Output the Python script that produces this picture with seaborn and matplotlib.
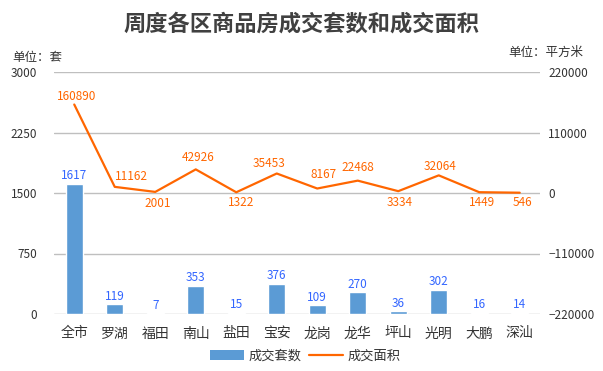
import numpy as np
import pandas as pd
import matplotlib
matplotlib.use("Agg")
import matplotlib.pyplot as plt
import seaborn as sns
from matplotlib.patches import Patch
from matplotlib.lines import Line2D

# data
districts = ["全市", "罗湖", "福田", "南山", "盐田", "宝安", "龙岗", "龙华", "坪山", "光明", "大鹏", "深汕"]
units_sold = [1617, 119, 7, 353, 15, 376, 109, 270, 36, 302, 16, 14]
area_sold = [160890, 11162, 2001, 42926, 1322, 35453, 8167, 22468, 3334, 32064, 1449, 546]
left_ticks = [0, 750, 1500, 2250, 3000]
right_ticks = [-220000, -110000, 0, 110000, 220000]

# label offsets for the area line (pixels, from each point)
area_label_dx = [2, 17, 2, 2, 5, -8, 6, 0, 1, 1, 3, 3]
area_label_dy = [8, 10, -12, 12, -10, 10, 14, 13, -11, 9, -10, -10]

BAR_COLOR = "#5B9BD5"
LINE_COLOR = "#FF6600"
BAR_TEXT = "#3366FF"
GRID = "#BFBFBF"
TEXT = "#333333"

sns.set_style("white")
plt.rcParams["font.family"] = ["Noto Sans CJK SC", "DejaVu Sans"]

df = pd.DataFrame({"district": districts, "units": units_sold, "area": area_sold,
                   "pos": np.arange(len(districts))})

fig = plt.figure(figsize=(6.03, 3.71), dpi=100)
ax = fig.add_axes([54 / 603, 1 - 314 / 371, (540 - 54) / 603, (314 - 72) / 371])

sns.barplot(data=df, x="district", y="units", color=BAR_COLOR, width=0.42,
            saturation=1, ax=ax, zorder=2)
ax.set_xlim(-0.5, len(districts) - 0.5)
ax.set_ylim(0, 3000)
ax.set_yticks(left_ticks)
ax.yaxis.grid(True, color=GRID, linewidth=1)
ax.set_axisbelow(True)
ax.set_xlabel("")
ax.set_ylabel("")
ax.tick_params(axis="y", length=0, labelsize=8.5, labelcolor=TEXT, pad=12)
ax.tick_params(axis="x", length=0, labelsize=10, labelcolor=TEXT, pad=9)
sns.despine(ax=ax, left=True, bottom=True)

for i, v in enumerate(units_sold):
    ax.annotate(str(v), (i, v), xytext=(0, 8), textcoords="offset pixels",
                ha="center", va="center", fontsize=8.5, color=BAR_TEXT)

ax2 = ax.twinx()
sns.lineplot(data=df, x="pos", y="area", color=LINE_COLOR, linewidth=1.6,
             ax=ax2, sort=False, zorder=3)
ax2.set_ylim(-220000, 220000)
ax2.set_yticks(right_ticks)
ax2.set_xlim(-0.5, len(districts) - 0.5)
ax2.set_xlabel("")
ax2.set_ylabel("")
ax2.tick_params(axis="y", length=0, labelsize=8.5, labelcolor=TEXT, pad=6)
sns.despine(ax=ax2, left=True, bottom=True, right=True)

for i, v in enumerate(area_sold):
    ax2.annotate(str(v), (i, v), xytext=(area_label_dx[i], area_label_dy[i]),
                 textcoords="offset pixels", ha="center", va="center",
                 fontsize=8.5, color=LINE_COLOR)

fig.text(0.5, 1 - 24 / 371, "周度各区商品房成交套数和成交面积", ha="center", va="center",
         fontsize=16, fontweight="bold", color="#404040")
fig.text(12 / 603, 1 - 57 / 371, "单位：套", ha="left", va="center",
         fontsize=9, color=TEXT)
fig.text(583 / 603, 1 - 52 / 371, "单位：平方米", ha="right", va="center",
         fontsize=9, color=TEXT)

handles = [Patch(facecolor=BAR_COLOR, edgecolor="none"),
           Line2D([0], [0], color=LINE_COLOR, linewidth=1.6)]
fig.legend(handles, ["成交套数", "成交面积"], loc="center",
           bbox_to_anchor=(305 / 603, 1 - 356 / 371), ncol=2, frameon=False,
           fontsize=9.5, handlelength=2.6, handletextpad=0.3, columnspacing=0.6,
           labelcolor=TEXT)

fig.savefig("out.png", dpi=100)
